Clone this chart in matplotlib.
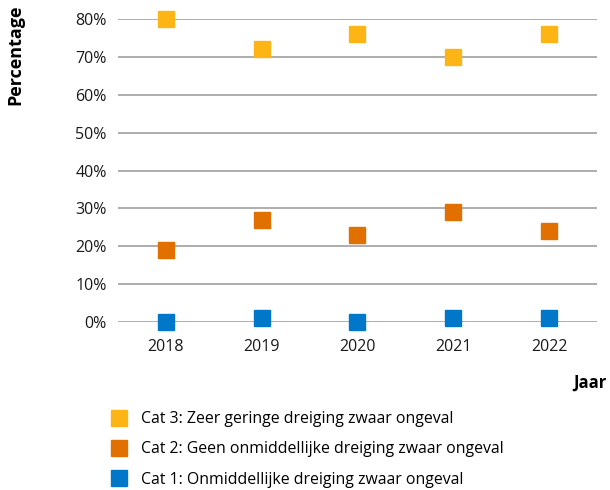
import matplotlib.pyplot as plt
from matplotlib.ticker import PercentFormatter

plt.rcParams['font.family'] = ['Open Sans', 'DejaVu Sans']

years = ['2018', '2019', '2020', '2021', '2022']
cat3 = [80, 72, 76, 70, 76]
cat2 = [19, 27, 23, 29, 24]
cat1 = [0, 1, 0, 1, 1]
labels = ['Cat 3: Zeer geringe dreiging zwaar ongeval',
          'Cat 2: Geen onmiddellijke dreiging zwaar ongeval',
          'Cat 1: Onmiddellijke dreiging zwaar ongeval']
colors = ['#FDB515', '#E17000', '#0077C8']

fig = plt.figure(figsize=(6.1, 4.9), dpi=100)
ax = fig.add_axes([0.193, 0.343, 0.786, 0.618])

x = range(len(years))
handles = []
for vals, lab, col in zip([cat3, cat2, cat1], labels, colors):
    h, = ax.plot(x, vals, 's', color=col, markersize=11.5, label=lab,
                 clip_on=False, zorder=3)
    handles.append(h)

ax.set_xlim(-0.5, 4.5)
ax.set_ylim(0, 80)
ax.set_yticks(range(0, 81, 10))
ax.yaxis.set_major_formatter(PercentFormatter(decimals=0))
ax.set_xticks(list(x))
ax.set_xticklabels(years)
ax.yaxis.grid(True, color='#a0a0a0', linewidth=1.2)
ax.set_axisbelow(True)
for s in ax.spines.values():
    s.set_visible(False)
ax.tick_params(length=0, labelsize=11.5, colors='#1a1a1a', pad=8)
ax.tick_params(axis='x', pad=12)

fig.text(0.025, 0.99, 'Percentage', rotation=90, ha='center', va='top',
         fontsize=13, fontweight='bold')
fig.text(0.995, 0.218, 'Jaar', ha='right', va='center',
         fontsize=12, fontweight='bold')

fig.legend(handles=handles, loc='upper left', bbox_to_anchor=(0.172, 0.177),
           frameon=False, fontsize=11.4, handlelength=0.8, handletextpad=1.0,
           labelspacing=0.9, borderpad=0, markerscale=0.95)

fig.savefig('out.png', dpi=100)
